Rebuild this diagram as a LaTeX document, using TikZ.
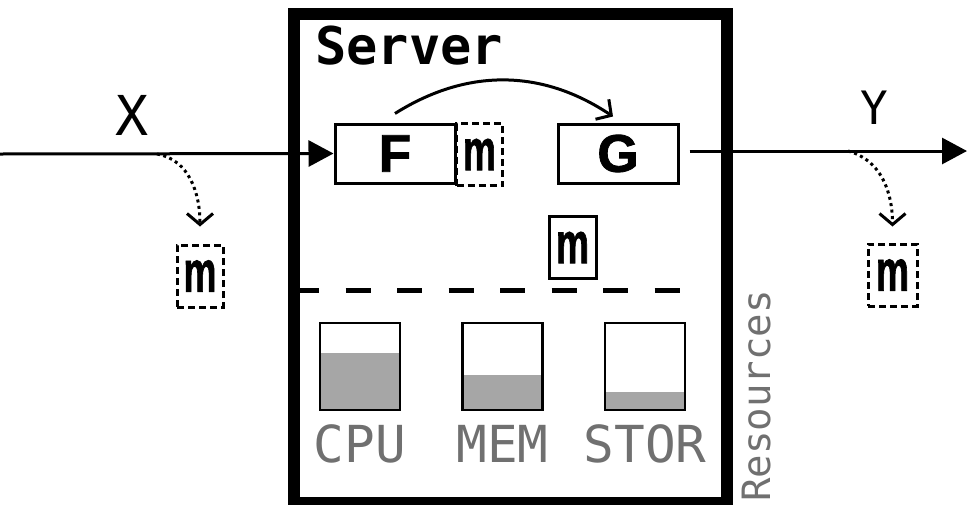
\documentclass[tikz,border=0pt]{standalone}
\usepackage{fontspec}
\usetikzlibrary{arrows.meta,calc}
\newfontfamily\monofont{DejaVu Sans Mono}
\newfontfamily\labelfont{Liberation Sans}[FakeBold=1.6]
\definecolor{barfill}{HTML}{A6A6A6}
\definecolor{txtgray}{HTML}{707070}
\tikzset{
  fbox/.style={draw, line width=3pt, minimum width=120pt, minimum height=59pt, inner sep=0pt,
               font=\labelfont\bfseries\fontsize{53}{53}\selectfont},
  mbox/.style={draw, line width=3pt, minimum width=46pt, minimum height=62pt, inner sep=0pt,
               font=\labelfont\bfseries\fontsize{58}{58}\selectfont},
  mdash/.style={mbox, dash pattern=on 7pt off 4pt},
  bar/.style={draw, line width=2.5pt, minimum width=80pt, minimum height=87pt, inner sep=0pt,
              path picture={\fill[barfill] (path picture bounding box.south west) rectangle
                ([yshift=#1]path picture bounding box.south east);}},
  reslabel/.style={text=txtgray, font=\monofont\fontsize{51}{51}\selectfont, inner sep=0pt},
  tap/.style={line width=3pt, dash pattern=on 3pt off 3.5pt, -{Straight Barb[length=11pt,width=26pt,line width=3pt]}},
  flow/.style={line width=3pt, -{Triangle[length=25pt,width=26pt]}},
}
\newcommand{\mglyph}{\scalebox{0.64}[1]{m}}
\begin{document}
\begin{tikzpicture}[x=1pt,y=1pt]
\useasboundingbox (0,0) rectangle (967,-504);

% server frame and title
\node[draw, line width=12pt, minimum width=433pt, minimum height=489pt, inner sep=0pt]
  (server) at (510.5,-258.5) {};
\node[anchor=base west, inner sep=0pt, font=\monofont\bfseries\fontsize{52}{52}\selectfont]
  (title) at (315,-64) {Server};

% functions
\node[fbox] (F) at (395,-153.5) {F};
\node[fbox] (G) at (618,-153.5) {G};
\node[mdash] (mF) at (479.5,-154.5) {\mglyph};
\node[mbox, minimum width=47pt] (mMid) at (572.5,-247.5) {\mglyph};

% messages outside the server
\node[mdash] (mL) at (200,-276) {\mglyph};
\node[mdash, minimum width=49pt] (mR) at (892.5,-275) {\mglyph};

% input and output flows
\coordinate (src) at (0,-154);
\coordinate (dst) at (967,-151);
\draw[flow] (src) -- (F.west);
\draw[flow] ([xshift=10pt,yshift=2.5pt]G.east) -- (dst);
\node[font=\monofont\fontsize{55}{55}\selectfont, anchor=base, inner sep=0pt] (X) at (132,-135) {X};
\node[font=\monofont\fontsize{46}{46}\selectfont, anchor=base, inner sep=0pt] (Y) at (874,-124) {Y};

% F calls G
\draw[line width=3pt, -{Straight Barb[length=11pt,width=24pt,line width=3pt]}]
  ([yshift=9pt]F.north) to[bend left=33] ([xshift=-5pt,yshift=6pt]G.north);

% message taps
\coordinate (tapL) at (157,-154);
\coordinate (tapR) at (848,-151);
\draw[tap] (tapL) to[out=-10,in=90] ([yshift=17pt]mL.north);
\draw[tap] (tapR) to[out=-15,in=90] ([yshift=16pt]mR.north);

% divider between software and resources
\draw[line width=5pt, dash pattern=on 25pt off 26.5pt] (294,-290) -- (680,-290);

% resource gauges
\node[bar=57pt] (cpu) at (360,-366.5) {};
\node[bar=35pt] (mem) at (502.5,-366.5) {};
\node[bar=18pt] (stor) at (645,-366.5) {};
\node[reslabel, anchor=base] (cpuL) at (cpu.center |- 0,-462) {CPU};
\node[reslabel, anchor=base] (memL) at (mem.center |- 0,-462) {MEM};
\node[reslabel, anchor=base] (storL) at (stor.center |- 0,-462) {STOR};
\node[text=txtgray, font=\monofont\fontsize{39}{39}\selectfont, inner sep=0pt,
      rotate=90, anchor=base west] (res) at (770,-502) {Resources};
\end{tikzpicture}
\end{document}
